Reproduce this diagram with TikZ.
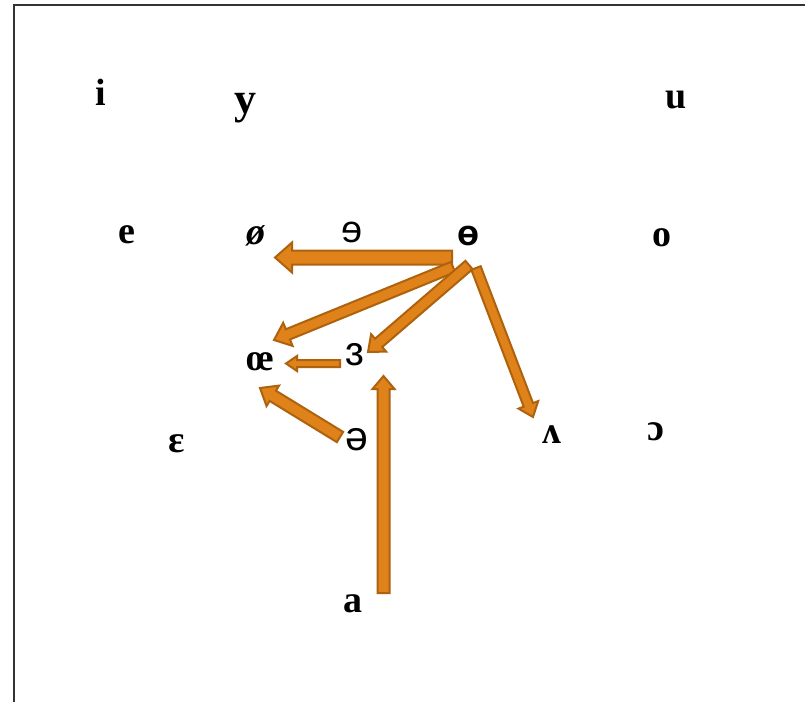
\documentclass[tikz,border=0pt]{standalone}
\usepackage{fontspec}
\setmainfont{Liberation Serif}[BoldFont={Liberation Serif Bold},BoldItalicFont={Liberation Serif Bold Italic}]
\newfontfamily\ipasans{Liberation Sans}[BoldFont={Liberation Sans Bold}]
\usetikzlibrary{calc}
\definecolor{arrfill}{HTML}{E0821A}
\definecolor{arrline}{HTML}{AE620E}
\definecolor{framec}{HTML}{333333}
\newcommand\blockarr[5]{%
  \coordinate (bh) at ($(#2)!#5!(#1)$);
  \filldraw[blockarrow] ($(#1)!#3!90:(#2)$) -- ($(bh)!#3!90:(#2)$) -- ($(bh)!#4!90:(#2)$) -- (#2) -- ($(bh)!#4!-90:(#2)$) -- ($(bh)!#3!-90:(#2)$) -- ($(#1)!#3!-90:(#2)$) -- cycle;}
\begin{document}
\begin{tikzpicture}[x=1pt,y=-1pt,
  vowel/.style={anchor=base,inner sep=0pt,font=\fontsize{38}{40}\selectfont\bfseries},
  sansvowel/.style={anchor=base,inner sep=0pt,font=\fontsize{38}{40}\selectfont\ipasans},
  blockarrow/.style={fill=arrfill,draw=arrline,line width=2pt,line join=miter}]
\useasboundingbox[fill=white] (0,0) rectangle (805,702);
\draw[framec,line width=1.5pt] (14,702) -- (14,5) -- (805,5);
% vowels
\node[vowel] (i) at (101,105) {i};
\node[vowel,font=\fontsize{44}{46}\selectfont\bfseries] (y) at (245,113) {y};
\node[vowel] (u) at (676,108) {u};
\node[vowel] (e) at (127,243) {e};
\node[vowel,font=\fontsize{38}{40}\selectfont\bfseries\itshape] (oslash) at (256,244) {ø};
\node[sansvowel] (rev) at (352,242) {ɘ};
\node[sansvowel,font=\fontsize{36}{38}\selectfont\ipasans\bfseries] (barred) at (468,245) {ɵ};
\node[vowel] (o) at (662,246) {o};
\node[vowel] (oe) at (260,370) {œ};
\node[sansvowel,font=\fontsize{41}{43}\selectfont\ipasans] (revep) at (355,365) {ɜ};
\node[vowel] (ep) at (177,452) {ɛ};
\node[sansvowel,font=\fontsize{41}{43}\selectfont\ipasans] (schwa) at (357,450) {ə};
\node[vowel] (wedge) at (552,443) {ʌ};
\node[vowel] (openo) at (656,440) {ɔ};
\node[vowel] (a) at (353,612) {a};
% arrow end points
\coordinate (s1) at (452,257.5); \coordinate (e1) at (275,257.5);
\coordinate (s2) at (453,267);   \coordinate (e2) at (274,340);
\coordinate (s3) at (469,265);   \coordinate (e3) at (368,352);
\coordinate (s4) at (476,268);   \coordinate (e4) at (533,417);
\coordinate (s5) at (340,363.5); \coordinate (e5) at (286,363.5);
\coordinate (s6) at (340,437);   \coordinate (e6) at (260,388);
\coordinate (s7) at (383.5,593); \coordinate (e7) at (383.5,376);
\blockarr{s1}{e1}{7pt}{15pt}{17pt}
\blockarr{s2}{e2}{5.5pt}{12.5pt}{15pt}
\blockarr{s3}{e3}{5.5pt}{11.5pt}{14pt}
\blockarr{s4}{e4}{5pt}{10.5pt}{13pt}
\blockarr{s5}{e5}{3.5pt}{7.5pt}{11pt}
\blockarr{s6}{e6}{6pt}{12pt}{15pt}
\blockarr{s7}{e7}{6pt}{11pt}{13pt}
\end{tikzpicture}
\end{document}
